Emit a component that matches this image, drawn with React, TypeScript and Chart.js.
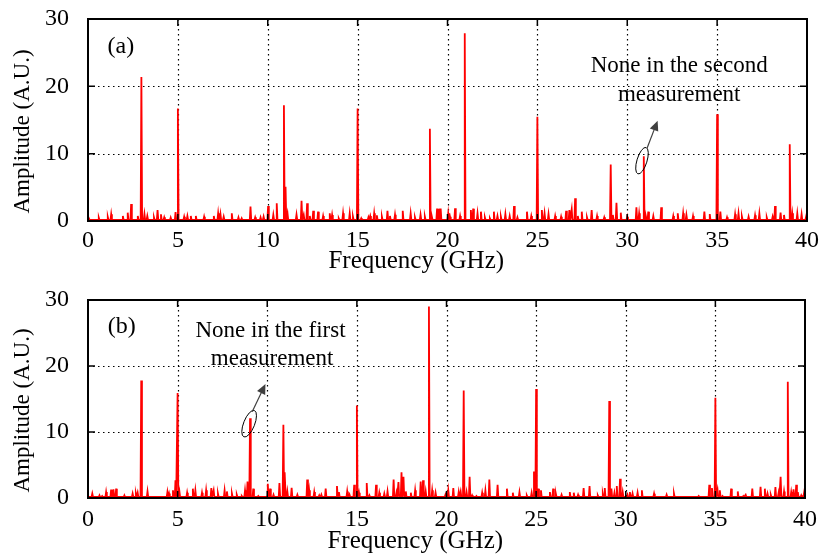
import React, { useEffect, useRef } from "react";
import { Chart, registerables } from "chart.js";

Chart.register(...registerables);

// ---------------- DATA ----------------
const xTickStep = 5;
const yTickStep = 10;
const xMin = 0;
const xMax = 40;
const yMin = 0;
const yMax = 30;
const baseAmp = 0.15;

// Panel (a): spectral lines (GHz) and amplitudes (A.U.)
const freqA = [
  0.05, 0.6, 1.1, 1.29, 1.94, 2.21, 2.4, 2.77, 2.97, 3.14, 3.3, 3.67, 3.87, 4.06, 4.24, 4.6, 4.87, 5.0,
  5.35, 5.53, 5.72, 6.0, 6.46, 7.0, 7.24, 7.37, 7.55, 8.0, 8.37, 8.55, 9.04, 9.3, 9.6, 9.77, 10.02,
  10.31, 10.5, 10.9, 10.99, 11.1, 11.6, 11.88, 12.0, 12.19, 12.34, 12.53, 12.8, 13.08, 13.45, 13.58,
  13.95, 14.19, 14.56, 14.74, 15.0, 15.2, 15.6, 15.7, 15.92, 16.07, 16.35, 16.66, 16.8, 17.08, 17.51,
  17.95, 18.19, 18.5, 18.74, 19.02, 19.13, 19.42, 19.52, 19.62, 20.04, 20.14, 20.42, 20.7, 20.96,
  21.3, 21.43, 21.67, 21.86, 22.08, 22.36, 22.58, 22.78, 22.97, 23.22, 23.46, 23.7, 23.89, 24.42,
  24.66, 25.0, 25.25, 25.4, 25.62, 25.99, 26.32, 26.6, 26.78, 26.91, 27.1, 27.25, 27.47, 27.76,
  28.02, 28.32, 28.72, 29.08, 29.2, 29.4, 29.64, 30.0, 30.51, 30.66, 30.92, 31.04, 31.17, 31.45,
  31.89, 32.56, 32.81, 33.11, 33.29, 33.66, 34.29, 34.59, 35.0, 35.18, 35.55, 36.0, 36.19, 36.38,
  36.75, 37.11, 37.35, 37.76, 38.09, 38.22, 38.53, 38.72, 39.04, 39.18, 39.46, 39.7, 39.95,
];
const ampA = [
  0.5, 0.5, 0.6, 1.0, 0.74, 1.24, 2.52, 0.74, 21.4, 1.04, 0.74, 0.54, 1.63, 1.0, 0.54, 0.5, 1.34, 16.7,
  0.64, 0.74, 0.74, 0.74, 0.64, 0.74, 1.14, 1.0, 0.64, 1.14, 0.54, 0.4, 2.13, 0.54, 0.54, 0.64, 2.23,
  0.9, 2.62, 17.2, 5.1, 1.14, 0.94, 3.02, 0.94, 2.62, 0.74, 1.53, 1.39, 0.74, 1.14, 0.9,
  0.4, 1.14, 1.14, 0.64, 16.7, 0.4, 0.54, 0.74, 1.14, 0.84, 0.64, 1.53, 0.74, 0.94, 1.53,
  1.14, 0.54, 0.94, 0.64, 13.7, 0.64, 1.83, 1.83, 1.83, 1.14, 0.64, 1.88, 0.74, 27.9,
  1.63, 1.83, 1.14, 1.39, 0.54, 0.4, 1.39, 0.74, 0.64, 1.04, 0.74, 2.23, 0.54, 1.39,
  0.74, 15.5, 1.63, 1.14, 1.04, 0.74, 0.64, 1.53, 1.63, 1.73, 3.37, 0.74, 1.39, 0.54,
  1.63, 0.74, 0.54, 8.4, 0.9, 2.72, 1.24, 0.64, 2.03, 1.14, 9.6, 0.64, 1.39, 0.74,
  2.03, 0.74, 1.14, 1.14, 0.9, 0.74, 1.39, 1.04, 15.85, 1.39, 0.54, 1.0, 1.14, 0.64,
  0.64, 0.84, 1.14, 0.54, 0.64, 2.23, 1.24, 0.9, 11.4, 1.14, 1.14, 1.0, 0.64,
];

// Panel (b)
const freqB = [
  0.24, 0.64, 0.79, 1.01, 1.29, 1.42, 1.57, 2.03, 2.49, 2.67, 2.77, 2.97, 3.32, 4.43, 4.52, 4.74, 4.88,
  5.0, 5.1, 5.53, 5.85, 5.99, 6.36, 6.59, 6.88, 7.01, 7.25, 7.62, 7.75, 8.03, 8.3, 8.58, 8.76, 8.9,
  9.04, 9.22, 9.5, 10.03, 10.16, 10.35, 10.68, 10.9, 10.99, 11.12, 11.36, 11.68, 12.23, 12.34, 12.62,
  12.9, 13.02, 13.26, 13.89, 14.0, 14.46, 14.59, 14.85, 15.0, 15.12, 15.55, 15.7, 16.07, 16.25, 16.53,
  16.71, 17.05, 17.21, 17.32, 17.49, 17.6, 17.73, 18.01, 18.25, 18.56, 18.69, 18.84, 19.02, 19.2,
  19.39, 19.94, 20.1, 20.38, 20.68, 20.79, 20.96, 21.12, 21.29, 21.43, 21.67, 21.99, 22.17, 22.39,
  22.85, 23.37, 23.7, 24.07, 24.48, 24.75, 24.88, 25.0, 25.12, 25.27, 25.77, 25.95, 26.1, 26.42,
  26.88, 27.1, 27.34, 27.65, 27.98, 28.44, 28.72, 28.83, 29.08, 29.2, 29.37, 29.5, 29.68, 29.83,
  30.1, 30.23, 30.38, 30.66, 30.9, 31.58, 32.28, 32.69, 34.07, 34.66, 34.81, 35.0, 35.12, 35.25,
  35.4, 35.88, 36.25, 36.56, 36.69, 37.06, 37.52, 37.76, 37.91, 38.09, 38.35, 38.53, 38.64, 38.83,
  39.04, 39.23, 39.36, 39.51, 39.6, 39.79, 39.95,
];
const ampB = [
  0.66, 0.4, 0.3, 0.9, 1.26, 1.3, 1.41, 0.4, 0.66, 0.66, 0.8, 17.8, 1.0, 0.9, 0.7, 1.16, 2.7,
  15.9, 1.0, 0.8, 1.41, 1.16, 0.8, 1.16, 1.5, 1.16, 0.66, 1.16, 1.0, 0.66, 0.5, 0.3, 1.16, 2.5,
  12.1, 1.41, 0.3, 2.17, 1.41, 0.5, 2.27, 11.1, 3.9, 1.0, 1.56, 0.5, 2.8, 1.16, 0.9,
  0.4, 0.5, 1.41, 1.8, 0.9, 1.0, 0.5, 2.0, 14.0, 0.8, 2.27, 0.4, 2.0, 0.8, 0.66,
  1.0, 2.8, 0.8, 2.4, 3.9, 3.2, 1.0, 0.8, 1.16, 2.5, 2.7, 1.0, 29.0, 1.16,
  0.8, 0.5, 1.16, 1.5, 0.9, 1.0, 16.3, 0.9, 3.2, 0.4, 0.3, 0.8, 1.16, 2.8,
  2.0, 1.41, 0.8, 0.9, 0.4, 0.8, 4.0, 16.5, 1.41, 1.16, 0.9, 1.41, 0.66, 0.5,
  0.9, 0.8, 0.5, 1.5, 1.8, 0.4, 0.66, 1.5, 14.7, 1.41, 0.8, 1.8, 2.9, 0.9,
  0.5, 0.9, 0.66, 0.8, 1.16, 0.66, 0.5, 0.66, 0.3, 2.0, 1.5, 15.2, 1.26, 1.16,
  0.3, 1.41, 1.0, 0.3, 0.5, 1.41, 1.7, 1.41, 0.66, 0.5, 1.66, 0.8, 3.2, 1.0,
  17.6, 0.9, 1.3, 2.0, 0.9, 0.4, 0.8,
];

// Texts
const panelLabelA = "(a)";
const panelLabelB = "(b)";
const noteLinesA = ["None in the second", "measurement"];
const noteLinesB = ["None in the first", "measurement"];
// trailing spaces reproduce the off-centre placement of the original axis titles
const xTitle = "Frequency (GHz)          ";
const yTitle = "Amplitude (A.U.)    ";

const FONT = "'Liberation Serif', 'Times New Roman', Times, serif";

type Decor = {
  label: string;
  labelAt: [number, number];
  lines: string[];
  linesAt: [number, number][];
  ellipse: { x: number; y: number; a: number; b: number; rot: number };
  arrow: [number, number, number, number];
};

const decorA: Decor = {
  label: panelLabelA,
  labelAt: [1.83, 25.9],
  lines: noteLinesA,
  linesAt: [
    [32.89, 23.08],
    [32.89, 18.77],
  ],
  ellipse: { x: 30.82, y: 8.96, a: 5, b: 13.8, rot: 0.3 },
  arrow: [31.1, 10.8, 31.69, 14.9],
};

const decorB: Decor = {
  label: panelLabelB,
  labelAt: [1.88, 25.9],
  lines: noteLinesB,
  linesAt: [
    [10.18, 25.36],
    [10.27, 21.12],
  ],
  ellipse: { x: 8.99, y: 11.26, a: 5.5, b: 14.2, rot: 0.38 },
  arrow: [9.16, 13.08, 9.9, 17.27],
};

function buildPoints(freqs: number[], amps: number[], base: number) {
  const hw = 0.04;
  const order = freqs.map((_, i) => i).sort((p, q) => freqs[p] - freqs[q]);
  const pts: { x: number; y: number }[] = [{ x: xMin, y: base }];
  for (const i of order) {
    pts.push({ x: freqs[i] - hw, y: base });
    pts.push({ x: freqs[i], y: amps[i] });
    pts.push({ x: freqs[i] + hw, y: base });
  }
  pts.push({ x: xMax, y: base });
  return pts;
}

function makeDecorPlugin(d: Decor) {
  return {
    id: "decor",
    beforeDatasetsDraw(chart: any) {
      const { ctx, chartArea: a } = chart;
      const xs = chart.scales.x;
      const ys = chart.scales.y;
      ctx.save();
      ctx.strokeStyle = "#000";
      ctx.lineWidth = 1.2;
      ctx.setLineDash([1.5, 3.5]);
      for (const t of xs.ticks) {
        if (t.value <= xs.min || t.value >= xs.max) continue;
        const px = Math.round(xs.getPixelForValue(t.value)) + 0.5;
        ctx.beginPath();
        ctx.moveTo(px, a.top);
        ctx.lineTo(px, a.bottom);
        ctx.stroke();
      }
      for (const t of ys.ticks) {
        if (t.value <= ys.min || t.value >= ys.max) continue;
        const py = Math.round(ys.getPixelForValue(t.value)) + 0.5;
        ctx.beginPath();
        ctx.moveTo(a.left, py);
        ctx.lineTo(a.right, py);
        ctx.stroke();
      }
      ctx.restore();
    },
    afterDatasetsDraw(chart: any) {
      const { ctx, chartArea: a } = chart;
      const xs = chart.scales.x;
      const ys = chart.scales.y;
      ctx.save();
      ctx.setLineDash([]);
      ctx.strokeStyle = "#000";
      ctx.lineWidth = 1.5;
      const tl = 7;
      for (const t of xs.ticks) {
        if (t.value <= xs.min || t.value >= xs.max) continue;
        const px = xs.getPixelForValue(t.value);
        ctx.beginPath();
        ctx.moveTo(px, a.bottom);
        ctx.lineTo(px, a.bottom - tl);
        ctx.moveTo(px, a.top);
        ctx.lineTo(px, a.top + tl);
        ctx.stroke();
      }
      for (const t of ys.ticks) {
        if (t.value <= ys.min || t.value >= ys.max) continue;
        const py = ys.getPixelForValue(t.value);
        ctx.beginPath();
        ctx.moveTo(a.left, py);
        ctx.lineTo(a.left + tl, py);
        ctx.moveTo(a.right, py);
        ctx.lineTo(a.right - tl, py);
        ctx.stroke();
      }
      ctx.lineWidth = 2;
      ctx.strokeRect(a.left, a.top, a.right - a.left, a.bottom - a.top);

      // texts
      ctx.fillStyle = "#000";
      ctx.textAlign = "center";
      ctx.textBaseline = "middle";
      ctx.font = `24px ${FONT}`;
      ctx.fillText(d.label, xs.getPixelForValue(d.labelAt[0]), ys.getPixelForValue(d.labelAt[1]));
      ctx.font = `23px ${FONT}`;
      d.lines.forEach((s, i) => {
        ctx.fillText(s, xs.getPixelForValue(d.linesAt[i][0]), ys.getPixelForValue(d.linesAt[i][1]));
      });

      // ellipse
      const e = d.ellipse;
      ctx.strokeStyle = "#000";
      ctx.lineWidth = 1;
      ctx.beginPath();
      ctx.ellipse(xs.getPixelForValue(e.x), ys.getPixelForValue(e.y), e.a, e.b, e.rot, 0, Math.PI * 2);
      ctx.stroke();

      // arrow
      const x1 = xs.getPixelForValue(d.arrow[0]);
      const y1 = ys.getPixelForValue(d.arrow[1]);
      const x2 = xs.getPixelForValue(d.arrow[2]);
      const y2 = ys.getPixelForValue(d.arrow[3]);
      const ang = Math.atan2(y2 - y1, x2 - x1);
      const L = 10;
      const W = 4.5;
      const c = Math.cos(ang);
      const s = Math.sin(ang);
      ctx.strokeStyle = "#404040";
      ctx.fillStyle = "#404040";
      ctx.lineWidth = 1.2;
      ctx.beginPath();
      ctx.moveTo(x1, y1);
      ctx.lineTo(x2 - L * 0.8 * c, y2 - L * 0.8 * s);
      ctx.stroke();
      ctx.beginPath();
      ctx.moveTo(x2, y2);
      ctx.lineTo(x2 - L * c + W * s, y2 - L * s - W * c);
      ctx.lineTo(x2 - L * c - W * s, y2 - L * s + W * c);
      ctx.closePath();
      ctx.fill();
      ctx.restore();
    },
  };
}

function makeConfig(
  freqs: number[],
  amps: number[],
  decor: Decor,
  padTop: number,
  xAxisHeight: number,
  tickPad: number,
  titlePadBottom: number
): any {
  return {
    type: "line",
    data: {
      datasets: [
        {
          data: buildPoints(freqs, amps, baseAmp),
          borderColor: "#ff0000",
          backgroundColor: "#ff0000",
          borderWidth: 1.8,
          pointRadius: 0,
          tension: 0,
          fill: false,
        },
      ],
    },
    options: {
      animation: false,
      responsive: false,
      maintainAspectRatio: false,
      events: [],
      layout: { padding: { left: 0, right: 14, top: padTop, bottom: 0 } },
      plugins: { legend: { display: false }, tooltip: { enabled: false } },
      scales: {
        x: {
          type: "linear",
          min: xMin,
          max: xMax,
          afterFit: (sc: any) => {
            sc.height = xAxisHeight;
          },
          grid: { display: false, drawTicks: false },
          border: { display: false },
          ticks: {
            stepSize: xTickStep,
            maxRotation: 0,
            padding: tickPad,
            color: "#000",
            font: { family: FONT, size: 24 },
          },
          title: {
            display: true,
            text: xTitle,
            color: "#000",
            font: { family: FONT, size: 25 },
            padding: { top: 0, bottom: titlePadBottom },
          },
        },
        y: {
          type: "linear",
          min: yMin,
          max: yMax,
          afterFit: (sc: any) => {
            sc.width = 88;
          },
          grid: { display: false, drawTicks: true, tickLength: 19 },
          border: { display: false },
          ticks: {
            stepSize: yTickStep,
            padding: 0,
            color: "#000",
            font: { family: FONT, size: 24 },
          },
          title: {
            display: true,
            text: yTitle,
            color: "#000",
            font: { family: FONT, size: 23 },
            padding: { top: 9, bottom: 0 },
          },
        },
      },
    },
    plugins: [makeDecorPlugin(decor)],
  };
}

export default function App() {
  const refA = useRef<HTMLCanvasElement>(null);
  const refB = useRef<HTMLCanvasElement>(null);

  useEffect(() => {
    const cA = new Chart(refA.current as HTMLCanvasElement, makeConfig(freqA, ampA, decorA, 19, 56, 5, 1));
    const cB = new Chart(refB.current as HTMLCanvasElement, makeConfig(freqB, ampB, decorB, 23, 60, 7, 2));
    return () => {
      cA.destroy();
      cB.destroy();
    };
  }, []);

  return (
    <div
      style={{
        position: "absolute",
        left: 0,
        top: 0,
        width: 824,
        height: 554,
        overflow: "hidden",
        background: "#fff",
      }}
    >
      <canvas ref={refA} width={824} height={277} style={{ display: "block", width: 824, height: 277 }} />
      <canvas ref={refB} width={824} height={281} style={{ display: "block", width: 824, height: 281 }} />
    </div>
  );
}
